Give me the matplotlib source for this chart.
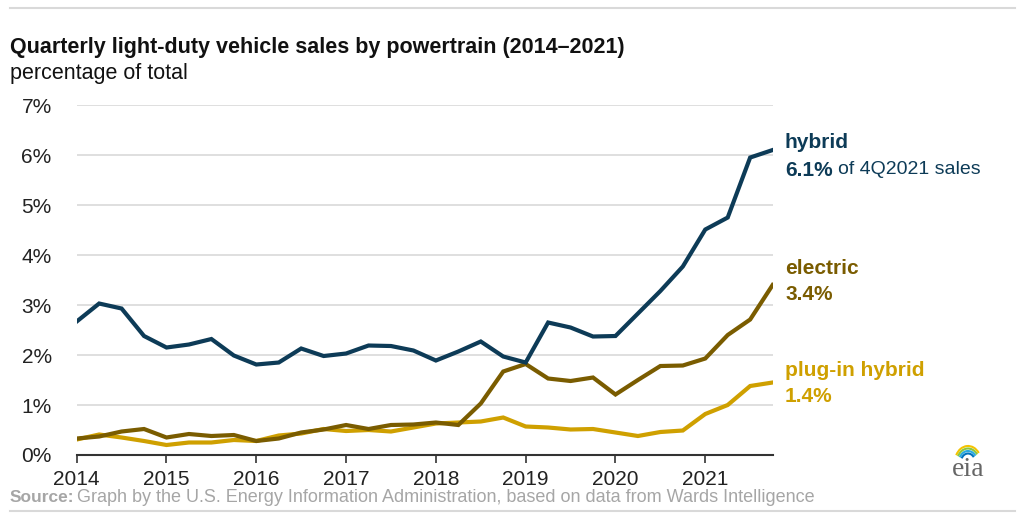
import matplotlib.pyplot as plt
import numpy as np
from matplotlib.patches import Arc

plt.rcParams['font.family'] = ['Liberation Sans', 'DejaVu Sans']

# quarterly data, 1Q2014 .. 4Q2021 (percentage of total sales)
quarters = 2014 + np.arange(32) / 4.0
hybrid = [2.67, 3.03, 2.93, 2.38, 2.15, 2.21, 2.32, 1.99,
          1.81, 1.85, 2.13, 1.98, 2.03, 2.19, 2.18, 2.09,
          1.89, 2.07, 2.27, 1.97, 1.85, 2.65, 2.55, 2.37,
          2.38, 2.83, 3.28, 3.77, 4.51, 4.75, 5.95, 6.10]
electric = [0.33, 0.37, 0.47, 0.52, 0.35, 0.42, 0.38, 0.40,
            0.28, 0.33, 0.45, 0.51, 0.60, 0.52, 0.60, 0.61,
            0.65, 0.60, 1.03, 1.67, 1.82, 1.53, 1.48, 1.55,
            1.21, 1.50, 1.78, 1.79, 1.93, 2.40, 2.71, 3.40]
plugin = [0.31, 0.41, 0.35, 0.28, 0.20, 0.25, 0.25, 0.30,
          0.28, 0.39, 0.43, 0.52, 0.48, 0.50, 0.47, 0.55,
          0.63, 0.65, 0.67, 0.75, 0.57, 0.55, 0.51, 0.52,
          0.45, 0.38, 0.46, 0.49, 0.82, 1.00, 1.38, 1.45]

years = list(range(2014, 2022))
yticks = list(range(0, 8))

c_hybrid = '#0d3b57'
c_electric = '#7a5c00'
c_plugin = '#cfa000'

fig = plt.figure(figsize=(10.24, 5.2), dpi=100)
ax = fig.add_axes([0.0749, 0.125, 0.6796, 0.673])

ax.plot(quarters, plugin, color=c_plugin, lw=3, solid_joinstyle='miter')
ax.plot(quarters, electric, color=c_electric, lw=3, solid_joinstyle='miter')
ax.plot(quarters, hybrid, color=c_hybrid, lw=3, solid_joinstyle='miter')

ax.set_xlim(2014, 2021.75)
ax.set_ylim(0, 7)
ax.set_yticks(yticks)
ax.set_yticklabels(['%d%%' % v for v in yticks])
ax.set_xticks(years)
ax.set_xticklabels([str(y) for y in years])

ax.grid(axis='y', color='#d9d9d9', lw=1.2)
ax.set_axisbelow(True)
for s in ['top', 'right', 'left']:
    ax.spines[s].set_visible(False)
ax.spines['bottom'].set_color('#333333')
ax.spines['bottom'].set_linewidth(1.5)
ax.tick_params(axis='y', length=0, pad=18, labelsize=15, colors='#222222')
ax.tick_params(axis='x', length=6, width=1.2, color='#333333', pad=5,
               labelsize=15, colors='#222222')

# end labels
tx = 785 / 1024
fig.text(tx, 1 - 143 / 520, 'hybrid', color=c_hybrid, fontsize=15,
         fontweight='bold', va='center')
fig.text(tx, 1 - 170 / 520, '6.1%', color=c_hybrid, fontsize=15,
         fontweight='bold', va='center')
fig.text(tx + 53 / 1024, 1 - 170 / 520, 'of 4Q2021 sales', color=c_hybrid,
         fontsize=14, va='center')
fig.text(tx, 1 - 269 / 520, 'electric', color=c_electric, fontsize=15,
         fontweight='bold', va='center')
fig.text(tx, 1 - 295 / 520, '3.4%', color=c_electric, fontsize=15,
         fontweight='bold', va='center')
fig.text(tx, 1 - 371 / 520, 'plug-in hybrid', color=c_plugin, fontsize=15,
         fontweight='bold', va='center')
fig.text(tx, 1 - 396 / 520, '1.4%', color=c_plugin, fontsize=15,
         fontweight='bold', va='center')

# titles
fig.text(10 / 1024, 1 - 48 / 520,
         'Quarterly light-duty vehicle sales by powertrain (2014\u20132021)',
         fontsize=15.5, fontweight='bold', va='center', color='#111111')
fig.text(10 / 1024, 1 - 73 / 520, 'percentage of total', fontsize=15.5,
         va='center', color='#111111')

# source
fig.text(10 / 1024, 1 - 498 / 520, 'Source:', fontsize=12.5, fontweight='bold',
         color='#a6a6a6', va='center')
fig.text(77 / 1024, 1 - 498 / 520,
         'Graph by the U.S. Energy Information Administration, based on data from Wards Intelligence',
         fontsize=13, color='#a6a6a6', va='center')

# frame lines
fig.add_artist(plt.Line2D([10 / 1024, 1015 / 1024], [1 - 8 / 520, 1 - 8 / 520],
                          color='#d9d9d9', lw=1.5))
fig.add_artist(plt.Line2D([10 / 1024, 1015 / 1024], [1 - 511 / 520, 1 - 511 / 520],
                          color='#d9d9d9', lw=1.5))

# eia logo
fig.text(968 / 1024, 1 - 470 / 520, 'eia', family='Liberation Serif',
         fontsize=20, color='#666666', ha='center', va='center')
lax = fig.add_axes([950 / 1024, 1 - 462 / 520, 36 / 1024, 22 / 520])
lax.set_xlim(0, 36)
lax.set_ylim(0, 22)
lax.axis('off')
for i, col in enumerate(['#f4c300', '#8cc63f', '#29a9e0', '#0072bc']):
    lax.add_patch(Arc((18, 0), 26 - i * 4, 32 - i * 5, theta1=40, theta2=150,
                      color=col, lw=1.5))

plt.savefig('out.png', dpi=100)
